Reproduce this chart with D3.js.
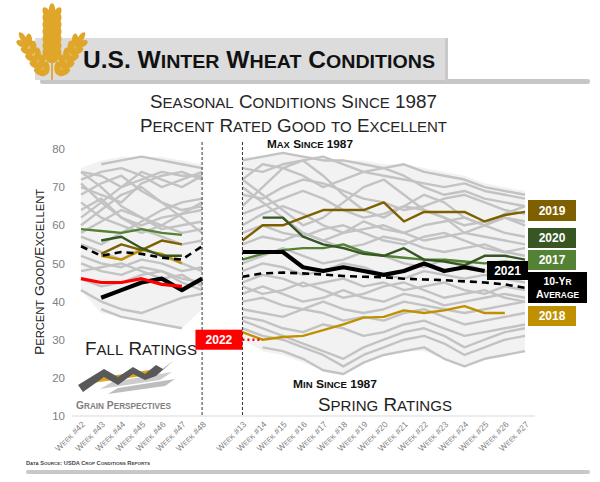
<!DOCTYPE html>
<html>
<head>
<meta charset="utf-8">
<script src="https://cdn.jsdelivr.net/npm/d3@7"></script>
<style>
  body { margin: 0; background: #fff; }
  svg { display: block; font-family: "Liberation Sans", Arial, sans-serif; }
</style>
</head>
<body>
<div id="chart"></div>
<script>
// ---- data ----
const fallWeeks = ['Week #42','Week #43','Week #44','Week #45','Week #46','Week #47','Week #48'];
const springWeeks = ['Week #13','Week #14','Week #15','Week #16','Week #17','Week #18','Week #19','Week #20',
  'Week #21','Week #22','Week #23','Week #24','Week #25','Week #26','Week #27'];
const yTicks = [10, 20, 30, 40, 50, 60, 70, 80];

// range since 1987
const fallMax = [75, 77, 78, 78, 78, 77, 76];
const fallMin = [43, 37, 36, 35, 34, 33, 38];
const springMax = [78, 78, 79, 78, 78, 77, 77, 76, 76, 75, 74, 73, 71, 70, 69];
const springMin = [30, 27, 26, 24, 22, 21, 24, 26, 27, 27, 25, 23, 25, 26, 27];

// other years (gray)
const fallOther = [
  [null, 76, 77, 78, 77, 76, 75],
  [74, 73, 70, 72, 74, 73, 73],
  [72, 74, 75, 73, 70, 72, 74],
  [70, 68, 66, 71, 73, 74, 72],
  [74, 70, 65, 62, 60, 63, 66],
  [68, 71, 73, 69, 66, 64, 65],
  [62, 66, 70, 74, 72, 70, 73],
  [64, 67, 62, 60, 62, 63, 64],
  [60, 64, 68, 70, 66, 62, 58],
  [66, 62, 60, 58, 60, 58, 59],
  [71, 66, 62, 59, 57, 55, 56],
  [57, 55, 58, 61, 64, 66, 67],
  [55, 53, 51, 54, 52, 50, 48],
  [52, 50, 49, 51, 50, 48, 49],
  [50, 48, 47, 49, 48, 46, 45],
  [48, 49, 50, 48, 46, 47, 44],
  [46, 44, 45, 47, 48, 45, 43],
  [43, 40, 38, 37, 39, 41, 42],
  [null, 38, 36, 35, 34, 33, null],
  [58, 61, 64, 62, 59, 60, 61]
];
const springOther = [
  [77, 78, 79, 78, 77, 77, 76, 75, 76, 74, 73, 72, 70, 69, 68],
  [75, 74, 76, 77, 78, 76, 74, 73, 72, 71, 70, 71, 69, 68, 67],
  [72, 76, 75, 73, 70, 72, 74, 75, 73, 70, 68, 69, 67, 66, 65],
  [65, 70, 75, 77, 73, 68, 64, 62, 65, 68, 66, 62, 60, 63, 65],
  [68, 67, 70, 72, 71, 69, 67, 66, 64, 65, 67, 68, 66, 64, 63],
  [72, 68, 64, 60, 62, 66, 70, 72, 68, 64, 62, 58, 60, 62, 61],
  [63, 65, 67, 69, 67, 64, 62, 63, 65, 64, 62, 60, 61, 62, 60],
  [70, 66, 62, 58, 56, 58, 61, 59, 58, 60, 61, 62, 60, 58, 57],
  [60, 63, 65, 63, 60, 58, 59, 60, 58, 56, 57, 58, 57, 56, 55],
  [58, 60, 58, 57, 59, 60, 58, 56, 55, 57, 58, 56, 54, 53, 54],
  [55, 57, 56, 58, 56, 54, 55, 57, 56, 54, 53, 54, 55, 53, 52],
  [50, 52, 54, 52, 50, 51, 53, 52, 50, 49, 51, 50, 48, 47, 48],
  [48, 50, 49, 47, 48, 50, 49, 47, 46, 48, 47, 46, 47, 46, 45],
  [45, 47, 46, 44, 45, 46, 44, 45, 43, 44, 45, 43, 42, 44, 43],
  [44, 42, 43, 45, 43, 41, 42, 44, 45, 43, 41, 42, 43, 41, 40],
  [42, 44, 42, 40, 41, 43, 41, 40, 42, 41, 39, 40, 41, 42, 41],
  [40, 41, 39, 38, 40, 38, 37, 38, 40, 39, 38, 37, 38, 39, 40],
  [38, 37, 36, 38, 37, 35, 36, 35, 37, 38, 36, 34, 35, 36, 37],
  [36, 35, 33, 32, 34, 33, 31, 32, 34, 35, 33, 31, 32, 33, 34],
  [35, 33, 31, 29, 27, 25, 28, 30, 32, 33, 31, 28, 30, 32, 33],
  [33, 31, 30, 28, 26, 23, 26, 28, 30, 31, 29, 26, 28, 30, 31],
  [null, 28, 27, 25, 22, 21, 24, 26, 27, 28, 25, 23, 25, 26, 27]
];

// highlighted years
const fall2018 = [null, 52, 51, 53.5, 52.5, 50, null];
const fall2019 = [null, 52.5, 55, 53.5, 56, 55, null];
const fall2017 = [59, 58.5, 58, 59, 58, 57.5, null];
const fall2020 = [null, 56, 57, 54, 52, 52, null];
const fallAvg = [54.5, 52, 53, 52.5, 51.5, 51, 54.5];
const fall2021 = [null, 41, 43, 45, 46, 43, 46];
const fall2022 = [46, 45, 45, 46, 44.5, 44, null];

const spring2018 = [32, 30, 30.7, 31, 32.5, 34, 35.8, 36, 37.7, 37, 37.7, 38.8, 37, 37, null];
const spring2019 = [56, 60, 60, 62, 64, 64, 64, 66, 61, 63.5, 63.5, 63.5, 61, 62.7, 63.5];
const spring2017 = [51, 52.5, 53.5, 54, 54, 55, 53, 52, 51.5, 51, 51, 50.5, 50, 50.5, 50];
const spring2020 = [null, 62, 62, 57, 55, 54, 52.5, 52, 54, 51, 50.5, 49.5, 52, 52, 51];
const springAvg = [46.5, 47.4, 47.6, 47.4, 47.1, 46.7, 46.5, 46.4, 46, 45.8, 45.6, 45.3, 45, 44.5, 43.6];
const spring2021 = [53, 53, 53, 49, 48, 49, 48, 47, 48, 50, 48, 49, 48, null, null];
const spring2022 = [30, 30, null, null, null, null, null, null, null, null, null, null, null, null, null];

// ---- setup ----
const W = 600, H = 482;
const svg = d3.select('#chart').append('svg').attr('width', W).attr('height', H);
svg.append('rect').attr('width', W).attr('height', H).attr('fill', '#fff');

const categories = [...fallWeeks, ' ', ...springWeeks];
const x = d3.scalePoint().domain(categories).range([81, 525]);
const y = d3.scaleLinear().domain([10, 80]).range([416, 149]);

// small caps helper: lower case letters drawn as smaller capitals
const smallCaps = (sel, str, size, ratio = 0.8) => {
  str.match(/[a-z]+|[^a-z]+/g).forEach(p => {
    const low = /[a-z]/.test(p[0]);
    sel.append('tspan').attr('font-size', low ? size * ratio : size).text(p.toUpperCase());
  });
  return sel;
};

// ---- header ----
svg.append('rect').attr('x', 40).attr('y', 79).attr('width', 550).attr('height', 5).attr('rx', 2.5).attr('fill', '#c6c6c6');
svg.append('rect').attr('x', 35).attr('y', 38).attr('width', 413).attr('height', 42).attr('fill', '#dcdcdc');
svg.append('rect').attr('x', 445).attr('y', 38).attr('width', 3).attr('height', 44).attr('fill', '#c9c9c9');

// wheat icon
const gold = '#DFA62A';
const wheat = svg.append('g').attr('fill', gold);
const ear = (x0, y0, x1, y1, n, k) => {
  const ang = Math.atan2(y1 - y0, x1 - x0) * 180 / Math.PI;
  wheat.append('line').attr('x1', x0).attr('y1', y0).attr('x2', x1).attr('y2', y1)
    .attr('stroke', gold).attr('stroke-width', 1.4);
  for (let i = 0; i < n; i++) {
    const t = i / n;
    const px = x0 + (x1 - x0) * t, py = y0 + (y1 - y0) * t;
    const g = wheat.append('g').attr('transform', `translate(${px},${py}) rotate(${ang + 90})`);
    [-1, 1].forEach(s => {
      g.append('ellipse').attr('rx', 3.4 * k).attr('ry', 7 * k)
        .attr('transform', `translate(${s * 4 * k},${-3.5 * k}) rotate(${s * 32})`);
    });
  }
  wheat.append('ellipse').attr('rx', 3 * k).attr('ry', 7 * k)
    .attr('transform', `translate(${x1},${y1}) rotate(${ang + 90})`);
};
ear(52, 60, 52, 11, 7, 1.1);
ear(45, 73, 23, 38, 5, 0.95);
ear(59, 73, 81, 38, 5, 0.95);
wheat.append('line').attr('x1', 52).attr('y1', 58).attr('x2', 52).attr('y2', 80)
  .attr('stroke', gold).attr('stroke-width', 1.8);

smallCaps(svg.append('text').attr('x', 83).attr('y', 68).attr('font-weight', 'bold').attr('fill', '#111')
  .attr('textLength', 352).attr('lengthAdjust', 'spacingAndGlyphs'), 'U.S. Winter Wheat Conditions', 23);

smallCaps(svg.append('text').attr('x', 150).attr('y', 108).attr('fill', '#262626')
  .attr('textLength', 287).attr('lengthAdjust', 'spacingAndGlyphs'), 'Seasonal Conditions Since 1987', 18);
smallCaps(svg.append('text').attr('x', 140).attr('y', 132).attr('fill', '#262626')
  .attr('textLength', 307).attr('lengthAdjust', 'spacingAndGlyphs'), 'Percent Rated Good to Excellent', 18);

// ---- plot ----
const plot = svg.append('g');
const lineFor = (cats) => d3.line()
  .defined(d => d != null)
  .x((d, i) => x(cats[i]))
  .y(d => y(d));
const areaFor = (cats, lo) => d3.area()
  .x((d, i) => x(cats[i]))
  .y0((d, i) => y(lo[i]))
  .y1(d => y(d));

plot.append('path').attr('d', areaFor(fallWeeks, fallMin)(fallMax)).attr('fill', '#f2f2f2');
plot.append('path').attr('d', areaFor(springWeeks, springMin)(springMax)).attr('fill', '#f2f2f2');

const drawLine = (cats, data, color, width, dash) => {
  plot.append('path')
    .attr('d', lineFor(cats)(data))
    .attr('fill', 'none')
    .attr('stroke', color)
    .attr('stroke-width', width)
    .attr('stroke-linejoin', 'round')
    .attr('stroke-dasharray', dash || null);
};

fallOther.forEach(d => drawLine(fallWeeks, d, '#c3c3c3', 2.4));
springOther.forEach(d => drawLine(springWeeks, d, '#c3c3c3', 2.4));

drawLine(fallWeeks, fall2018, '#BF9000', 2.4);
drawLine(fallWeeks, fall2019, '#7F6000', 2.4);
drawLine(fallWeeks, fall2017, '#548235', 2.4);
drawLine(fallWeeks, fall2020, '#375623', 2.4);
drawLine(fallWeeks, fallAvg, '#000', 2.6, '7,5');
drawLine(fallWeeks, fall2021, '#000', 4.2);
drawLine(fallWeeks, fall2022, '#FF0000', 3.2);

drawLine(springWeeks, spring2018, '#BF9000', 2.4);
drawLine(springWeeks, spring2019, '#7F6000', 2.4);
drawLine(springWeeks, spring2017, '#548235', 2.4);
drawLine(springWeeks, spring2020, '#375623', 2.4);
drawLine(springWeeks, springAvg, '#000', 2.6, '7,5');
drawLine(springWeeks, spring2021, '#000', 4.2);
drawLine(springWeeks, spring2022, '#FF0000', 2.6, '2,3');

// season separators
[fallWeeks[fallWeeks.length - 1], springWeeks[0]].forEach(c => {
  plot.append('line').attr('x1', x(c)).attr('x2', x(c)).attr('y1', 142).attr('y2', y(10))
    .attr('stroke', '#000').attr('stroke-width', 0.8).attr('stroke-dasharray', '3,2');
});

// axes
plot.append('line').attr('x1', 72).attr('x2', 535).attr('y1', y(10)).attr('y2', y(10))
  .attr('stroke', '#d9d9d9').attr('stroke-width', 1);

const yAxis = svg.append('g').attr('transform', 'translate(65,0)')
  .call(d3.axisLeft(y).tickValues(yTicks).tickSize(0).tickPadding(0));
yAxis.select('.domain').remove();
yAxis.selectAll('text').attr('font-size', 11.5).attr('fill', '#808080')
  .attr('font-family', '"Liberation Sans", Arial, sans-serif');

const xAxis = svg.append('g').attr('transform', `translate(0,${y(10)})`)
  .call(d3.axisBottom(x).tickSize(0));
xAxis.select('.domain').remove();
xAxis.selectAll('.tick text').each(function (d) {
  const t = d3.select(this).text('').attr('y', 0).attr('dy', 0)
    .attr('text-anchor', 'end').attr('fill', '#7f7f7f')
    .attr('font-family', '"Liberation Sans", Arial, sans-serif')
    .attr('transform', 'translate(4,9) rotate(-45)');
  if (d.trim()) smallCaps(t, d, 8.5);
});

// y title
smallCaps(svg.append('text').attr('transform', 'translate(44,272) rotate(-90)').attr('text-anchor', 'middle')
  .attr('fill', '#1a1a1a').attr('textLength', 166).attr('lengthAdjust', 'spacingAndGlyphs'), 'Percent Good/Excellent', 13.5);

// annotations
smallCaps(svg.append('text').attr('x', 267).attr('y', 148).attr('font-weight', 'bold').attr('fill', '#111')
  .attr('textLength', 86).attr('lengthAdjust', 'spacingAndGlyphs'), 'Max Since 1987', 10.5);
smallCaps(svg.append('text').attr('x', 293).attr('y', 388).attr('font-weight', 'bold').attr('fill', '#111')
  .attr('textLength', 84).attr('lengthAdjust', 'spacingAndGlyphs'), 'Min Since 1987', 10.5);
smallCaps(svg.append('text').attr('x', 85).attr('y', 355).attr('fill', '#222')
  .attr('textLength', 112).attr('lengthAdjust', 'spacingAndGlyphs'), 'Fall Ratings', 19);
smallCaps(svg.append('text').attr('x', 318).attr('y', 411).attr('fill', '#222')
  .attr('textLength', 134).attr('lengthAdjust', 'spacingAndGlyphs'), 'Spring Ratings', 19);

// series labels
const tag = (x0, y0, w, h, fill, lines, size) => {
  svg.append('rect').attr('x', x0).attr('y', y0).attr('width', w).attr('height', h).attr('fill', fill);
  lines.forEach((s, i) => {
    const t = svg.append('text').attr('x', x0 + w / 2)
      .attr('y', y0 + h / 2 + (i - (lines.length - 1) / 2) * (size + 2) + size * 0.36)
      .attr('text-anchor', 'middle').attr('font-weight', 'bold').attr('fill', '#fff');
    smallCaps(t, s, size);
  });
};
tag(528, 200, 48, 21, '#7F6000', ['2019'], 12);
tag(528, 228, 48, 20, '#375623', ['2020'], 12);
tag(528, 250, 48, 20, '#548235', ['2017'], 12);
tag(487, 261, 41, 19, '#000', ['2021'], 12);
tag(528, 272, 59, 31, '#000', ['10-Yr', 'Average'], 10.5);
tag(528, 306, 48, 20, '#BF9000', ['2018'], 12);
tag(x(springWeeks[0]) - 47, y(30) - 10, 47, 20, '#FF0000', ['2022'], 12);

// logo
const logo = svg.append('g');
logo.append('polygon').attr('fill', '#c8c8c8')
  .attr('points', '100,389 160,380 172,372 112,382').attr('opacity', 0.9);
logo.append('polygon').attr('fill', '#bdbdbd')
  .attr('points', '108,394 165,386 175,379 118,388');
logo.append('polygon').attr('fill', '#DBA520')
  .attr('points', '92,383 150,375 162,368 104,377');
logo.append('polygon').attr('fill', '#595959')
  .attr('points', '78,385 104,369 118,377 133,367 145,374 156,365 163,369 174,360 165,368 156,376 145,380 133,374 118,385 104,377 83,392');
smallCaps(logo.append('text').attr('x', 76).attr('y', 409).attr('font-weight', 'bold').attr('fill', '#808080')
  .attr('textLength', 95).attr('lengthAdjust', 'spacingAndGlyphs'), 'Grain Perspectives', 10.5);

// footer
smallCaps(svg.append('text').attr('x', 26).attr('y', 465).attr('fill', '#444').attr('font-weight', 'bold')
  .attr('textLength', 124).attr('lengthAdjust', 'spacingAndGlyphs'), 'Data Source: USDA Crop Conditions Reports', 5.5);
svg.append('rect').attr('x', 26).attr('y', 470).attr('width', 564).attr('height', 4).attr('rx', 2).attr('fill', '#c8c8c8');
</script>
</body>
</html>
